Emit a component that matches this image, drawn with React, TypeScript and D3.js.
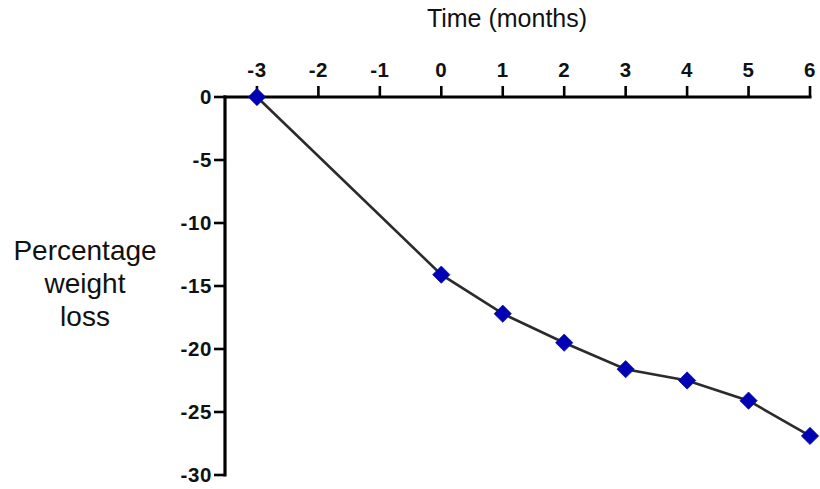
import React from "react";
import * as d3 from "d3";

const months = [-3, 0, 1, 2, 3, 4, 5, 6];
const weightLoss = [0, -14.1, -17.2, -19.5, -21.6, -22.5, -24.1, -26.9];
const xTicks = [-3, -2, -1, 0, 1, 2, 3, 4, 5, 6];
const yTicks = [0, -5, -10, -15, -20, -25, -30];
const yLabelLines = ["Percentage", "weight", "loss"];

const W = 820;
const H = 489;
const FONT = "'Liberation Sans', Arial, sans-serif";

export default function App() {
  const x = d3.scaleLinear().domain([-3.52, 6]).range([225, 810]);
  const y = d3.scaleLinear().domain([0, -30]).range([97, 475]);

  const pts = months.map((m, i) => [x(m), y(weightLoss[i])] as [number, number]);
  const line = d3.line()(pts) ?? "";
  const diamond = d3.symbol().type(d3.symbolDiamond2).size(190)() ?? "";

  return (
    <svg
      width={W}
      height={H}
      style={{ position: "absolute", left: 0, top: 0, background: "#fff" }}
    >
      <text x={507} y={27} textAnchor="middle" fontFamily={FONT} fontSize={25} fill="#111">
        Time (months)
      </text>

      {/* y axis title */}
      {yLabelLines.map((t, i) => (
        <text
          key={t}
          x={85}
          y={260 + i * 33}
          textAnchor="middle"
          fontFamily={FONT}
          fontSize={28}
          fill="#111"
        >
          {t}
        </text>
      ))}

      {/* top x axis */}
      <line x1={x.range()[0] - 1.5} x2={x(6) + 1.5} y1={y(0)} y2={y(0)} stroke="#000" strokeWidth={3.2} />
      {xTicks.map((t) => (
        <g key={t}>
          <line x1={x(t)} x2={x(t)} y1={y(0)} y2={y(0) - 11} stroke="#000" strokeWidth={2.6} />
          <text
            x={x(t)}
            y={y(0) - 20}
            textAnchor="middle"
            fontFamily={FONT}
            fontWeight="bold"
            fontSize={20.5}
            letterSpacing={0.6}
            fill="#111"
          >
            {t}
          </text>
        </g>
      ))}

      {/* left y axis */}
      <line x1={225} x2={225} y1={y(0) - 1.5} y2={y(-30) + 1.5} stroke="#000" strokeWidth={3.2} />
      {yTicks.map((t) => (
        <g key={t}>
          <line x1={214} x2={225} y1={y(t)} y2={y(t)} stroke="#000" strokeWidth={2.6} />
          <text
            x={212}
            y={y(t) + 7}
            textAnchor="end"
            fontFamily={FONT}
            fontWeight="bold"
            fontSize={20.5}
            letterSpacing={0.6}
            fill="#111"
          >
            {t}
          </text>
        </g>
      ))}

      <path d={line} fill="none" stroke="#2b2b2b" strokeWidth={2.6} />
      {pts.map(([px, py], i) => (
        <path key={i} d={diamond} transform={`translate(${px},${py})`} fill="#0000b4" stroke="#1010a0" strokeWidth={0.8} />
      ))}
    </svg>
  );
}
